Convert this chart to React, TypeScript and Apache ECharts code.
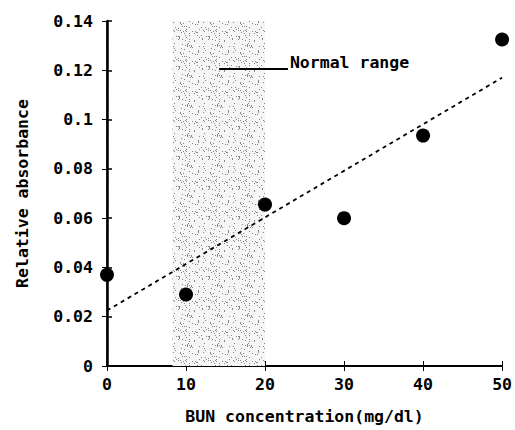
import React, { useEffect, useRef } from "react";
import * as echarts from "echarts";

const bunConcentration = [0, 10, 20, 30, 40, 50];
const relativeAbsorbance = [0.037, 0.029, 0.0655, 0.06, 0.0935, 0.1325];
const fitX = [0, 50];
const fitY = [0.0225, 0.117];
const normalRange = [8.3, 20];
const xTicks = [0, 10, 20, 30, 40, 50];
const yTicks = [0, 0.02, 0.04, 0.06, 0.08, 0.1, 0.12, 0.14];

const FONT = "'DejaVu Sans Mono', monospace";

function makeStipple(): HTMLCanvasElement {
  const size = 30;
  const c = document.createElement("canvas");
  c.width = size;
  c.height = size;
  const ctx = c.getContext("2d")!;
  ctx.fillStyle = "#f6f6f6";
  ctx.fillRect(0, 0, size, size);
  ctx.fillStyle = "rgba(0,0,0,0.45)";
  for (let y = 0; y < size; y++) {
    for (let x = 0; x < size; x++) {
      const h = (x * 37 + y * 91 + ((x * y) % 11) * 17) % 23;
      if (h < 2) ctx.fillRect(x, y, 1, 1);
    }
  }
  return c;
}

export default function App() {
  const ref = useRef<HTMLDivElement>(null);
  useEffect(() => {
    if (!ref.current) return;
    const chart = echarts.init(ref.current, undefined, { renderer: "svg" });
    const yFmt = (v: number) => {
      const t = yTicks.find((k) => Math.abs(k - v) < 1e-9);
      return t === undefined ? "" : String(+t.toFixed(2));
    };
    const labelStyle = {
      fontFamily: FONT,
      fontWeight: "bold" as const,
      fontSize: 16.5,
      color: "#000",
    };
    const stipple = makeStipple();
    chart.setOption({
      animation: false,
      backgroundColor: "#fff",
      grid: { left: 107, right: 12, top: 21, bottom: 61, containLabel: false },
      xAxis: [
        {
          type: "value",
          min: xTicks[0],
          max: xTicks[xTicks.length - 1],
          interval: 10,
          position: "bottom",
          name: "BUN concentration(mg/dl)",
          nameLocation: "middle",
          nameGap: 42,
          nameTextStyle: labelStyle,
          axisLine: { show: true, lineStyle: { color: "#000", width: 1.5, type: "dotted" } },
          axisTick: { show: true, inside: true, length: 5, lineStyle: { color: "#000" } },
          axisLabel: { ...labelStyle, margin: 10 },
          splitLine: { show: false },
        },
        {
          type: "value",
          min: xTicks[0],
          max: xTicks[xTicks.length - 1],
          interval: 10,
          position: "top",
          axisLine: { show: true, lineStyle: { color: "#000", width: 2 } },
          axisTick: { show: true, inside: true, length: 5, lineStyle: { color: "#000" } },
          axisLabel: { show: false },
          splitLine: { show: false },
        },
      ],
      yAxis: [
        {
          type: "value",
          min: 0,
          max: 0.14,
          interval: 0.02,
          position: "left",
          name: "Relative absorbance",
          nameLocation: "middle",
          nameGap: 76,
          nameTextStyle: labelStyle,
          axisLine: { show: true, lineStyle: { color: "#000", width: 2.5 } },
          axisTick: { show: true, inside: true, length: 5, lineStyle: { color: "#000", width: 1.5 } },
          axisLabel: { ...labelStyle, margin: 14, formatter: yFmt },
          splitLine: { show: false },
        },
        {
          type: "value",
          min: 0,
          max: 0.14,
          interval: 0.02,
          position: "right",
          axisLine: { show: true, lineStyle: { color: "#000", width: 1.5, type: "dotted" } },
          axisTick: { show: true, inside: true, length: 5, lineStyle: { color: "#000" } },
          axisLabel: { show: false },
          splitLine: { show: false },
        },
      ],
      series: [
        {
          type: "scatter",
          xAxisIndex: 0,
          yAxisIndex: 0,
          symbolSize: 14,
          itemStyle: { color: "#000", opacity: 1 },
          data: bunConcentration.map((x, i) => [x, relativeAbsorbance[i]]),
          z: 5,
          markArea: {
            silent: true,
            itemStyle: {
              color: { image: stipple, repeat: "repeat" },
              opacity: 1,
            },
            data: [[{ xAxis: normalRange[0] }, { xAxis: normalRange[1] }]],
          },
        },
        {
          type: "line",
          xAxisIndex: 0,
          yAxisIndex: 0,
          showSymbol: false,
          symbol: "none",
          lineStyle: { color: "#000", width: 1.8, type: [4, 4] },
          data: fitX.map((x, i) => [x, fitY[i]]),
          z: 4,
        },
        {
          type: "line",
          xAxisIndex: 0,
          yAxisIndex: 0,
          showSymbol: false,
          symbol: "none",
          lineStyle: { color: "#000", width: 2 },
          data: [
            [14.2, 0.1205],
            [22.9, 0.1205],
          ],
          endLabel: {
            show: true,
            formatter: "Normal range",
            distance: 2,
            offset: [0, -7],
            ...labelStyle,
          },
          z: 4,
        },
      ],
    });
    return () => chart.dispose();
  }, []);
  return <div ref={ref} style={{ width: 515, height: 430, position: "absolute", left: 0, top: 0 }} />;
}
